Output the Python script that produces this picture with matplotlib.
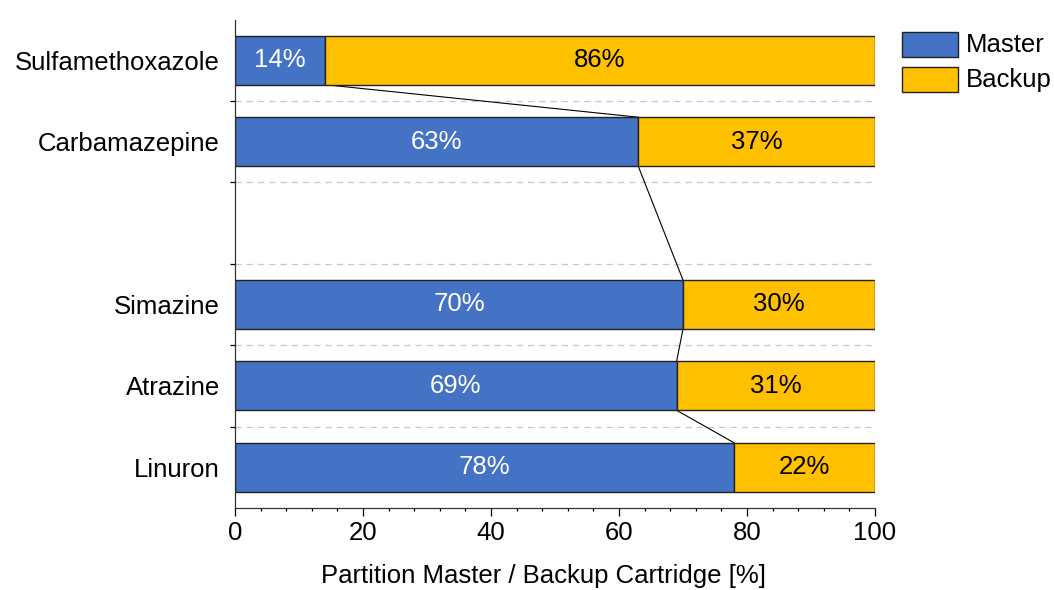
import matplotlib
matplotlib.use("Agg")
import matplotlib.pyplot as plt
from matplotlib.ticker import MultipleLocator, FixedLocator
from matplotlib.patches import Rectangle

plt.rcParams['font.family'] = ['Liberation Sans', 'DejaVu Sans']

compounds = ["Sulfamethoxazole", "Carbamazepine", "Simazine", "Atrazine", "Linuron"]
slots = [0, 1, 3, 4, 5]          # slot 2 stays empty
master = [14, 63, 70, 69, 78]
backup = [86, 37, 30, 31, 22]
series_names = ["Master", "Backup"]

BLUE = "#4472C4"
GOLD = "#FFC000"
EDGE = "#222222"
FS = 18.5
bar_h = 0.6
W, H = 1054, 590

fig = plt.figure(figsize=(W / 100, H / 100), dpi=100)
ax = fig.add_axes([235 / W, 1 - 508 / H, 640 / W, (508 - 19.5) / H])

# slot separators
for b in [0.5, 1.5, 2.5, 3.5, 4.5]:
    ax.axhline(b, color="#c8c8c8", lw=0.9, ls=(0, (5, 4)), zorder=0)

ax.barh(slots, master, height=bar_h, color=BLUE, edgecolor=EDGE, lw=1.0, zorder=2)
ax.barh(slots, backup, left=master, height=bar_h, color=GOLD, edgecolor=EDGE, lw=1.0, zorder=2)

for y, m, b in zip(slots, master, backup):
    ax.text(m / 2, y, f"{m}%", color="white", ha="center", va="center", fontsize=FS, zorder=3)
    ax.text(m + b / 2, y, f"{b}%", color="black", ha="center", va="center", fontsize=FS, zorder=3)

# link the master/backup boundaries of consecutive bars
for i in range(len(slots) - 1):
    ax.plot([master[i], master[i + 1]],
            [slots[i] + bar_h / 2, slots[i + 1] - bar_h / 2],
            color="black", lw=0.8, zorder=1)

ax.set_xlim(0, 100)
ax.set_ylim(5.5, -0.5)
ax.xaxis.set_major_locator(MultipleLocator(20))
ax.xaxis.set_minor_locator(MultipleLocator(4))
ax.tick_params(axis="x", which="major", direction="out", length=5.5, width=0.9, labelsize=FS, pad=4)
ax.tick_params(axis="x", which="minor", direction="out", length=2.5, width=0.9)

ax.yaxis.set_major_locator(FixedLocator([0.5, 1.5, 2.5, 3.5, 4.5]))
ax.yaxis.set_minor_locator(FixedLocator(slots))
ax.set_yticklabels([], minor=False)
ax.set_yticklabels(compounds, minor=True)
ax.tick_params(axis="y", which="major", direction="out", length=3.5, width=0.9)
ax.tick_params(axis="y", which="minor", length=0, labelsize=FS, pad=11)

for s in ["top", "right"]:
    ax.spines[s].set_visible(False)
for s in ["left", "bottom"]:
    ax.spines[s].set_linewidth(0.9)
    ax.spines[s].set_color("#333333")

ax.set_xlabel("Partition Master / Backup Cartridge [%]", fontsize=FS, labelpad=14)
ax.xaxis.set_label_coords(0.482, -0.115)

# legend drawn in figure pixels
for k, (name, col) in enumerate(zip(series_names, [BLUE, GOLD])):
    top = 32 + k * 35
    fig.patches.append(Rectangle((902 / W, 1 - (top + 25) / H), 56 / W, 25 / H,
                                 transform=fig.transFigure, facecolor=col,
                                 edgecolor=EDGE, lw=1.0))
    fig.text(966 / W, 1 - (top + 12.5) / H, name, fontsize=FS, ha="left", va="center")

fig.savefig("out.png", dpi=100)
